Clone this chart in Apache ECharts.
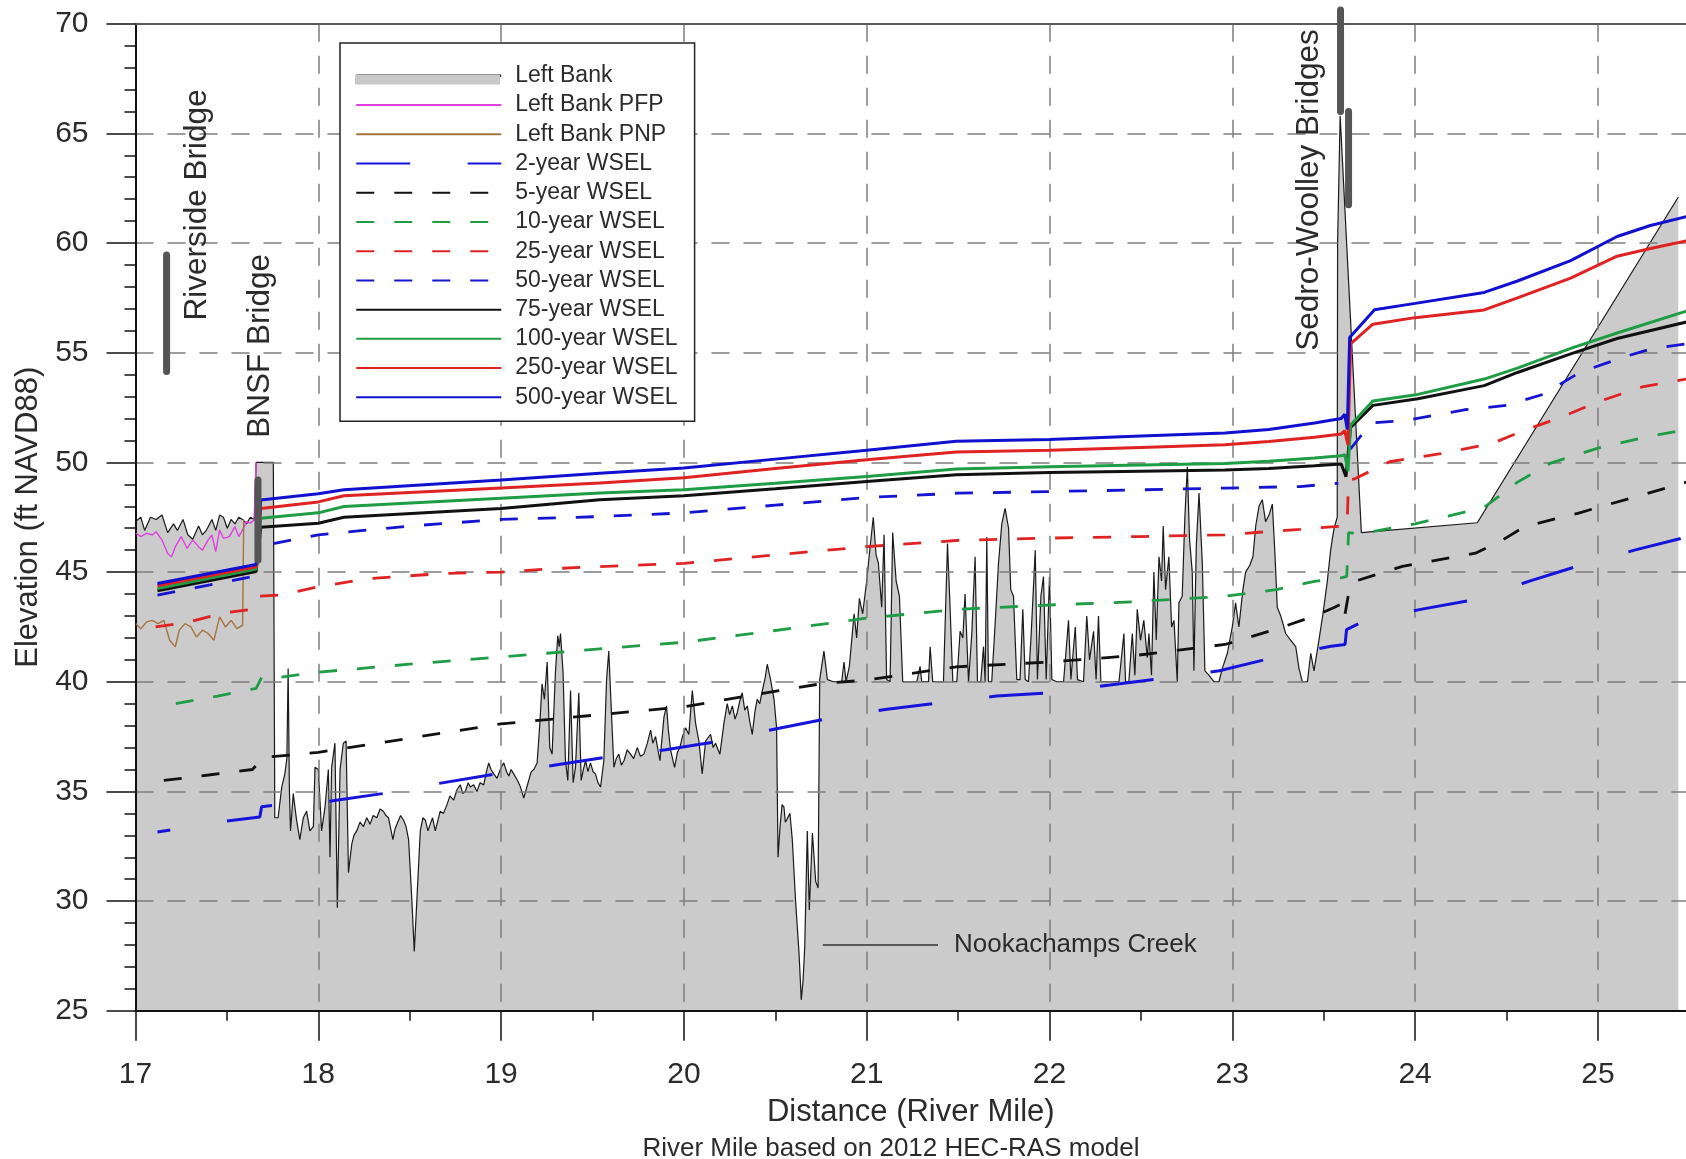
<!DOCTYPE html>
<html><head><meta charset="utf-8">
<script src="https://cdn.jsdelivr.net/npm/echarts@6/dist/echarts.min.js"></script>
<style>html,body{margin:0;padding:0;background:#fff}#c{width:1686px;height:1159px}</style>
</head><body><div id="c"></div>
<script>
// ---------------- DATA (River Mile, Elevation ft NAVD88) ----------------
const xTickValues = [17, 18, 19, 20, 21, 22, 23, 24, 25];
const yTickValues = [25, 30, 35, 40, 45, 50, 55, 60, 65, 70];

const leftBank = [
[17.0,47.3],[17.029,47.5],[17.05,46.9],[17.082,47.5],[17.113,47.4],[17.145,47.6],[17.176,46.8],[17.208,47.2],[17.229,46.9],[17.26,47.4],[17.286,46.7],[17.313,46.5],[17.345,47.1],[17.366,46.7],[17.387,46.9],[17.418,47.4],[17.439,46.9],[17.46,47.6],[17.481,47.5],[17.502,47.0],[17.523,47.4],[17.544,47.2],[17.565,47.5],[17.586,47.4],[17.607,47.2],[17.628,47.5],[17.65,47.4],[17.66,50.0],[17.754,50.0],
[17.762,33.8],[17.78,33.8],[17.8,35.2],[17.817,35.8],[17.828,36.5],[17.835,40.6],[17.842,35.0],[17.848,33.2],[17.863,34.9],[17.881,33.7],[17.899,32.8],[17.918,33.8],[17.936,34.1],[17.954,33.2],[17.973,33.4],[17.982,36.1],[18.0,36.0],[18.018,33.2],[18.037,34.3],[18.055,36.0],[18.064,32.0],[18.073,36.1],[18.091,37.2],[18.104,29.7],[18.119,36.0],[18.137,37.2],[18.152,37.3],[18.165,31.3],[18.183,32.6],[18.195,33.0],[18.21,33.2],[18.228,33.6],[18.247,33.4],[18.265,33.8],[18.283,33.5],[18.3,33.9],[18.32,33.8],[18.338,34.2],[18.356,34.1],[18.37,33.9],[18.384,33.8],[18.396,33.3],[18.408,32.8],[18.42,33.3],[18.43,33.5],[18.45,33.9],[18.466,33.7],[18.48,33.4],[18.494,32.8],[18.512,30.0],[18.525,27.7],[18.539,30.0],[18.558,33.2],[18.572,33.8],[18.585,33.7],[18.6,33.2],[18.612,33.5],[18.625,33.8],[18.64,33.2],[18.655,33.7],[18.667,34.1],[18.685,34.0],[18.704,34.4],[18.72,34.8],[18.74,34.6],[18.76,35.1],[18.777,35.3],[18.79,34.9],[18.804,35.0],[18.82,35.4],[18.832,35.2],[18.85,35.3],[18.868,35.0],[18.885,35.4],[18.905,35.3],[18.92,35.9],[18.932,36.3],[18.945,36.0],[18.96,35.8],[18.978,35.6],[19.0,36.1],[19.015,36.3],[19.03,35.9],[19.042,35.7],[19.055,36.0],[19.069,35.8],[19.09,35.5],[19.106,35.2],[19.124,34.7],
[19.151,35.5],[19.165,35.9],[19.179,36.0],[19.197,36.3],[19.212,38.1],[19.224,39.9],[19.237,39.2],[19.252,40.9],[19.266,37.0],[19.279,36.7],[19.297,40.4],[19.31,42.1],[19.318,41.6],[19.325,42.2],[19.339,40.4],[19.352,36.4],[19.365,35.5],[19.38,39.6],[19.394,35.4],[19.407,36.1],[19.425,39.5],[19.438,35.5],[19.45,36.0],[19.462,36.4],[19.475,35.9],[19.489,36.3],[19.503,35.9],[19.516,35.8],[19.53,35.4],[19.544,35.2],[19.562,36.4],[19.577,40.1],[19.589,41.4],[19.602,38.9],[19.617,36.1],[19.63,36.5],[19.644,36.7],[19.658,36.2],[19.672,36.4],[19.69,36.9],[19.708,36.7],[19.725,36.5],[19.745,37.0],[19.762,36.6],[19.781,36.7],[19.8,37.2],[19.818,37.8],[19.83,37.2],[19.845,37.5],[19.869,36.4],[19.891,38.4],[19.905,38.9],[19.915,37.8],[19.927,36.9],[19.949,36.1],[19.965,36.8],[19.978,37.0],[19.992,37.5],[20.009,37.9],[20.027,37.6],[20.046,39.6],[20.064,38.1],[20.082,37.3],[20.1,35.8],[20.119,37.3],[20.146,37.6],[20.16,37.0],[20.173,37.2],[20.197,36.7],[20.219,38.1],[20.237,39.0],[20.25,38.5],[20.265,38.9],[20.28,38.3],[20.292,38.6],[20.305,39.1],[20.319,39.5],[20.333,38.7],[20.347,38.9],[20.36,38.2],[20.374,37.6],[20.388,38.6],[20.401,39.2],[20.415,39.0],[20.429,39.6],[20.445,40.2],[20.456,40.8],[20.474,40.1],[20.493,39.2],[20.507,37.9],
[20.515,32.0],[20.526,33.4],[20.537,34.4],[20.547,34.3],[20.555,33.6],[20.562,33.7],[20.58,34.0],[20.593,32.8],[20.611,30.0],[20.63,27.6],[20.642,25.5],[20.652,26.4],[20.661,27.9],[20.675,33.2],[20.686,29.6],[20.703,33.1],[20.712,32.0],[20.721,30.9],[20.734,30.6],[20.743,40.1],[20.766,41.4],[20.785,40.1],
[20.818,40.0],[20.863,40.0],[20.876,40.9],[20.887,40.0],[20.905,40.7],[20.918,41.9],[20.931,43.1],[20.945,42.0],[20.96,43.8],[20.978,43.1],[21.0,44.6],[21.018,46.1],[21.036,47.5],[21.051,45.8],[21.064,45.4],[21.082,43.4],[21.095,46.7],[21.109,40.1],[21.128,40.0],[21.142,46.8],[21.161,44.6],[21.179,43.9],[21.197,40.0],[21.219,40.0],[21.274,40.0],[21.292,40.7],[21.301,40.0],[21.338,40.0],[21.347,41.6],[21.361,40.0],[21.42,40.0],[21.442,46.3],[21.456,43.4],[21.471,40.0],[21.493,40.0],[21.511,42.3],[21.526,42.0],[21.538,44.0],[21.557,40.0],[21.575,42.2],[21.593,45.7],[21.606,40.0],[21.624,40.0],[21.639,41.6],[21.648,40.0],[21.657,46.6],[21.666,40.0],[21.684,40.0],[21.703,42.7],[21.721,45.4],[21.739,47.2],[21.757,47.9],[21.776,47.0],[21.788,44.2],[21.803,43.9],[21.821,40.1],[21.839,40.1],[21.854,43.3],[21.867,40.1],[21.885,40.0],[21.9,42.2],[21.922,46.0],[21.934,40.1],[21.953,43.9],[21.967,44.8],[21.982,40.1],[22.0,44.8],[22.013,40.1],[22.04,40.0],[22.077,40.0],[22.104,42.8],[22.117,40.1],[22.141,42.5],[22.153,40.1],[22.186,40.0],[22.204,43.0],[22.219,41.0],[22.241,42.3],[22.255,40.1],[22.268,43.0],[22.281,40.0],
[22.325,40.0],[22.38,40.0],[22.407,42.2],[22.416,40.0],[22.434,40.0],[22.453,42.2],[22.467,40.3],[22.48,43.3],[22.498,41.9],[22.516,42.8],[22.535,41.1],[22.544,42.2],[22.558,40.3],[22.571,45.0],[22.584,41.9],[22.599,45.7],[22.613,44.6],[22.622,47.1],[22.635,44.2],[22.653,45.7],[22.668,42.5],[22.681,42.8],[22.699,40.0],[22.708,43.6],[22.726,43.9],[22.741,47.6],[22.754,49.8],[22.766,46.5],[22.781,45.0],[22.79,40.5],[22.803,46.2],[22.818,48.6],[22.836,45.4],[22.85,40.5],[22.872,40.3],[22.9,40.0],[22.927,40.0],[22.945,40.6],[22.973,41.3],[23.0,42.5],[23.018,43.6],[23.036,42.5],[23.058,44.2],[23.073,45.0],[23.095,45.3],[23.113,45.7],[23.128,47.1],[23.146,48.0],[23.164,48.3],[23.182,47.3],[23.201,47.6],[23.219,48.1],[23.234,45.7],[23.246,43.4],[23.265,43.0],[23.292,42.2],[23.319,41.9],[23.347,41.6],[23.365,40.6],[23.383,40.0],[23.411,40.0],[23.429,41.3],[23.447,40.5],[23.474,41.9],[23.496,43.1],[23.52,44.6],[23.538,46.0],[23.547,46.5],[23.557,47.0],
[23.574,47.5],[23.576,60.0],[23.59,65.8],[23.706,46.8],[24.34,47.25],[25.44,62.1]
];

const leftBankPFP = [
[17.002,46.77],[17.029,46.62],[17.061,46.77],[17.092,46.69],[17.113,46.84],[17.145,46.46],[17.176,45.85],[17.197,45.7],[17.218,46.16],[17.25,46.62],[17.282,46.08],[17.313,46.46],[17.345,46.16],[17.366,46.0],[17.397,46.46],[17.418,46.69],[17.439,45.93],[17.46,46.92],[17.481,46.54],[17.513,46.62],[17.544,47.07],[17.565,46.62],[17.586,46.92],[17.607,47.3],[17.628,47.23],[17.649,47.38],[17.66,50.0]
];

const leftBankPNP = [
[17.002,42.65],[17.029,42.42],[17.061,42.73],[17.092,42.8],[17.124,42.65],[17.155,42.8],[17.187,41.89],[17.218,41.59],[17.239,42.35],[17.271,42.65],[17.303,42.5],[17.334,42.04],[17.366,42.35],[17.397,42.2],[17.429,41.89],[17.46,42.96],[17.492,42.5],[17.523,42.8],[17.555,42.42],[17.586,42.58],[17.592,47.38]
];

const wsel2 = [[17.12,33.15],[17.5,33.65],[17.68,33.83],[17.69,34.3],[17.75,34.36],[18.07,34.56],[18.35,34.9],[18.67,35.38],[18.97,35.8],[19.28,36.18],[19.57,36.56],[19.9,36.9],[20.2,37.3],[20.5,37.85],[20.79,38.33],[21.1,38.74],[21.4,39.04],[21.71,39.35],[22.0,39.5],[22.33,39.85],[22.61,40.15],[22.93,40.5],[23.21,41.07],[23.54,41.62],[23.617,41.7],[23.625,42.38],[23.72,42.76],[24.03,43.3],[24.33,43.75],[24.63,44.6],[24.9,45.3],[25.2,46.0],[25.484,46.6]];

const wsel5 = [[17.155,35.5],[17.4,35.75],[17.64,36.0],[17.7,36.55],[18.0,36.78],[18.48,37.4],[19.0,38.08],[19.54,38.5],[20.0,38.86],[20.52,39.6],[20.76,39.92],[21.0,40.08],[21.49,40.68],[22.0,40.9],[22.47,41.2],[22.96,41.7],[23.24,42.4],[23.45,43.0],[23.56,43.4],[23.61,43.6],[23.615,43.0],[23.64,44.2],[23.67,44.58],[23.93,45.26],[24.33,45.86],[24.48,46.47],[24.6,47.08],[24.89,47.68],[25.484,49.1]];

const wsel10 = [[17.22,39.0],[17.45,39.35],[17.66,39.7],[17.69,40.2],[17.79,40.2],[18.0,40.44],[18.5,40.8],[19.0,41.13],[19.54,41.5],[20.0,41.8],[20.52,42.36],[21.0,42.9],[21.49,43.3],[22.0,43.5],[22.47,43.65],[22.96,43.9],[23.24,44.2],[23.45,44.58],[23.6,44.75],[23.626,44.8],[23.636,46.8],[23.705,46.75],[24.0,47.2],[24.378,47.95],[24.56,49.1],[24.742,49.97],[25.005,50.66],[25.287,51.2],[25.484,51.5]];

const wsel25 = [[17.11,42.5],[17.28,42.7],[17.49,43.15],[17.64,43.3],[17.68,43.9],[17.79,43.95],[18.0,44.33],[18.27,44.7],[18.69,44.94],[19.0,45.0],[19.32,45.17],[19.54,45.25],[20.0,45.4],[20.52,45.8],[21.0,46.16],[21.49,46.44],[22.0,46.55],[22.5,46.62],[22.96,46.7],[23.37,46.95],[23.6,47.1],[23.628,47.1],[23.636,49.2],[23.67,49.25],[23.86,50.03],[24.14,50.4],[24.42,50.86],[24.6,51.47],[24.8,52.06],[25.0,52.76],[25.25,53.46],[25.484,53.8]];

const wsel50 = [[17.12,43.95],[17.64,44.79],[17.7,null],[17.754,46.3],[18.0,46.7],[18.5,47.1],[19.0,47.4],[19.54,47.53],[20.0,47.7],[20.5,48.05],[21.0,48.4],[21.5,48.6],[22.0,48.67],[22.5,48.75],[22.96,48.83],[23.37,48.9],[23.58,49.05],[23.62,null],[23.645,50.6],[23.76,51.8],[23.94,51.9],[24.27,52.4],[24.5,52.6],[24.7,53.1],[24.9,54.1],[25.14,54.8],[25.3,55.2],[25.484,55.4]];

const wsel75 = [[17.12,44.15],[17.66,45.02],[17.685,47.04],[18.0,47.23],[18.14,47.5],[19.0,47.9],[19.54,48.3],[20.0,48.48],[20.5,48.8],[21.0,49.13],[21.49,49.44],[22.0,49.54],[22.5,49.6],[22.96,49.65],[23.2,49.72],[23.45,49.85],[23.596,49.93],[23.622,49.35],[23.647,51.6],[23.769,52.6],[24.015,52.9],[24.378,53.5],[24.56,54.1],[24.851,54.95],[25.105,55.65],[25.484,56.4]];

const wsel100 = [[17.12,44.25],[17.66,45.14],[17.685,47.45],[18.0,47.7],[18.14,47.99],[19.0,48.37],[19.54,48.6],[20.0,48.75],[20.5,49.05],[21.0,49.36],[21.49,49.7],[22.0,49.8],[22.5,49.88],[22.96,49.95],[23.2,50.05],[23.45,50.2],[23.596,50.3],[23.615,50.35],[23.633,49.6],[23.647,51.7],[23.769,52.8],[24.015,53.1],[24.378,53.8],[24.56,54.3],[24.851,55.2],[25.105,55.9],[25.484,56.9]];

const wsel250 = [[17.12,44.38],[17.66,45.24],[17.685,47.9],[18.0,48.2],[18.14,48.48],[19.0,48.83],[19.54,49.06],[20.0,49.3],[20.5,49.72],[21.0,50.12],[21.49,50.47],[22.0,50.55],[22.5,50.68],[22.96,50.8],[23.2,50.95],[23.45,51.15],[23.596,51.3],[23.615,51.45],[23.633,50.8],[23.647,55.4],[23.769,56.3],[24.0,56.6],[24.378,56.95],[24.56,57.5],[24.851,58.4],[25.105,59.4],[25.287,59.75],[25.484,60.1]];

const wsel500 = [[17.12,44.48],[17.66,45.35],[17.685,48.29],[18.0,48.57],[18.14,48.75],[19.0,49.2],[19.54,49.51],[20.0,49.74],[20.5,50.15],[21.0,50.55],[21.49,50.96],[22.0,51.05],[22.5,51.2],[22.96,51.34],[23.2,51.5],[23.45,51.8],[23.596,52.0],[23.615,52.2],[23.629,51.5],[23.642,55.7],[23.778,56.96],[24.0,57.25],[24.378,57.75],[24.56,58.27],[24.851,59.2],[25.105,60.3],[25.287,60.8],[25.484,61.2]];

const bridgeRiverside = [[17.17,54.15],[17.17,59.45]];
const bridgeBNSF = [[17.67,45.55],[17.67,49.2]];
const bridgeSedro1 = [[23.592,66.0],[23.592,70.62]];
const bridgeSedro2 = [[23.636,61.75],[23.636,66.0]];
const nookachampsPointer = [[20.76,28.0],[21.39,28.0]];

const seriesNames = ['Left Bank','Left Bank PFP','Left Bank PNP','2-year WSEL','5-year WSEL','10-year WSEL','25-year WSEL','50-year WSEL','75-year WSEL','100-year WSEL','250-year WSEL','500-year WSEL'];
const bridgeLabels = [
  {text: 'Riverside Bridge', at: [17.336, 61.74]},
  {text: 'BNSF Bridge', at: [17.681, 55.31]},
  {text: 'Sedro-Woolley Bridges', at: [23.42, 62.42]}
];

// ---------------- CHART ----------------
const FONT = "'Liberation Sans', Arial, sans-serif";
const TXT = '#2b2b2b';
const chart = echarts.init(document.getElementById('c'), null, {renderer: 'canvas', width: 1686, height: 1159});

function ln(name, data, color, width, type, z, extra) {
  return Object.assign({
    type: 'line', name: name, data: data, symbol: 'none', showSymbol: false,
    connectNulls: false, z: z, silent: true,
    itemStyle: {color: color},
    lineStyle: {color: color, width: width, type: type, cap: 'butt'}
  }, extra || {});
}
const DASH = [18, 20];
function bar(data) {
  return {type: 'line', data: data, symbol: 'none', z: 8, clip: false, silent: true,
    lineStyle: {color: '#555555', width: 7, cap: 'round'}};
}

const option = {
  animation: false,
  backgroundColor: '#ffffff',
  textStyle: {fontFamily: FONT},
  grid: {left: 135.5, top: 23.7, right: -94.7, bottom: 148.2, containLabel: false, outerBoundsMode: 'none'},
  xAxis: [{
    type: 'value', min: 17, max: 26, interval: 1, position: 'bottom', z: 2,
    axisLine: {show: true, onZero: false, lineStyle: {color: '#111', width: 2}},
    axisTick: {show: true, inside: false, length: 30, lineStyle: {color: '#111', width: 1.5}},
    minorTick: {show: true, splitNumber: 2, length: 10, lineStyle: {color: '#111', width: 1.5}},
    axisLabel: {show: true, margin: 49, fontSize: 30, fontFamily: FONT, color: TXT, customValues: xTickValues},
    splitLine: {show: true, showMinLine: false, lineStyle: {color: '#7d7d7d', width: 1.5, type: [18, 14]}},
    minorSplitLine: {show: false}
  }, {
    type: 'value', min: 17, max: 26, position: 'top', z: 2,
    axisLine: {show: true, onZero: false, lineStyle: {color: '#5a5a5a', width: 2}},
    axisTick: {show: false}, axisLabel: {show: false}, splitLine: {show: false}
  }],
  yAxis: {
    type: 'value', min: 25, max: 70, interval: 5, z: 2,
    name: 'Elevation (ft NAVD88)', nameLocation: 'middle', nameGap: 89,
    nameTextStyle: {fontSize: 31, fontFamily: FONT, color: TXT},
    axisLine: {show: true, onZero: false, lineStyle: {color: '#111', width: 2}},
    axisTick: {show: true, inside: false, length: 29, lineStyle: {color: '#111', width: 1.5}},
    minorTick: {show: true, splitNumber: 5, length: 11, lineStyle: {color: '#111', width: 1.5}},
    axisLabel: {show: true, margin: 47, fontSize: 30, fontFamily: FONT, color: TXT, customValues: yTickValues},
    splitLine: {show: true, showMinLine: false, showMaxLine: false, lineStyle: {color: '#7d7d7d', width: 1.5, type: [18, 14]}}
  },
  legend: {
    show: true, orient: 'vertical', left: 340, top: 43,
    itemWidth: 145, itemHeight: 12, itemGap: 6.23,
    padding: [21.3, 17, 12.3, 15],
    backgroundColor: '#ffffff', borderColor: '#222', borderWidth: 1.5, borderRadius: 0,
    selectedMode: false, z: 10,
    itemStyle: {opacity: 0},
    textStyle: {fontFamily: FONT, fontSize: 23, color: TXT, padding: [0, 0, 0, 9]},
    data: seriesNames.map(function (n, i) {
      if (i === 0) return {name: n, lineStyle: {width: 2.5, color: '#262626'}};
      if (i === 3) return {name: n, lineStyle: {dashOffset: 0}};
      return {name: n};
    })
  },
  series: [
    ln('Left Bank', leftBank, '#1a1a1a', 1.2, 'solid', 1, {
      areaStyle: {color: '#cbcbcb', opacity: 1, origin: 'start'}
    }),
    ln('Left Bank PFP', leftBankPFP, '#e040e0', 1.4, 'solid', 3),
    ln('Left Bank PNP', leftBankPNP, '#a5733f', 1.4, 'solid', 3),
    ln('2-year WSEL', wsel2, '#1414dc', 3, [54, 57.4], 4, {lineStyle: {color: '#1414dc', width: 3, type: [54, 57.4], dashOffset: 41, cap: 'butt'}}),
    ln('5-year WSEL', wsel5, '#111111', 2.8, DASH, 4),
    ln('10-year WSEL', wsel10, '#1f9d45', 2.8, DASH, 4),
    ln('25-year WSEL', wsel25, '#e02222', 2.8, DASH, 4),
    ln('50-year WSEL', wsel50, '#1414d2', 2.8, DASH, 4),
    ln('75-year WSEL', wsel75, '#111111', 3, 'solid', 5),
    ln('100-year WSEL', wsel100, '#1f9d45', 3, 'solid', 5),
    ln('250-year WSEL', wsel250, '#e02222', 3, 'solid', 5),
    ln('500-year WSEL', wsel500, '#1010d0', 3, 'solid', 5),
    bar(bridgeRiverside), bar(bridgeBNSF), bar(bridgeSedro1), bar(bridgeSedro2),
    {type: 'line', data: nookachampsPointer, symbol: 'none', z: 6, silent: true,
      lineStyle: {color: '#333', width: 1.6},
      endLabel: {show: true, formatter: 'Nookachamps Creek', distance: 16, fontSize: 26, fontFamily: FONT, color: TXT}}
  ]
};
chart.setOption(option);

// annotations placed through the chart's own coordinate system
const gfx = bridgeLabels.map(function (b) {
  const p = chart.convertToPixel({xAxisIndex: 0, yAxisIndex: 0}, b.at);
  return {type: 'text', x: p[0], y: p[1], rotation: Math.PI / 2, z: 20,
    style: {text: b.text, fontSize: 31.5, fontFamily: FONT, fill: TXT, align: 'center', verticalAlign: 'middle'}};
});
const xMid = (chart.convertToPixel({xAxisIndex: 0}, 17) + 1686) / 2;
gfx.push({type: 'text', x: xMid, y: 1112, z: 20,
  style: {text: 'Distance (River Mile)', fontSize: 31, fontFamily: FONT, fill: TXT, align: 'center', verticalAlign: 'middle'}});
gfx.push({type: 'text', x: 891, y: 1149, z: 20,
  style: {text: 'River Mile based on 2012 HEC-RAS model', fontSize: 26, fontFamily: FONT, fill: TXT, align: 'center', verticalAlign: 'middle'}});
// grey band of the "Left Bank" legend key (area below the bank line)
gfx.push({type: 'rect', z: 30, shape: {x: 355, y: 75, width: 145, height: 9.5}, style: {fill: '#c8c8c8'}});
chart.setOption({graphic: gfx});
</script>
</body></html>
